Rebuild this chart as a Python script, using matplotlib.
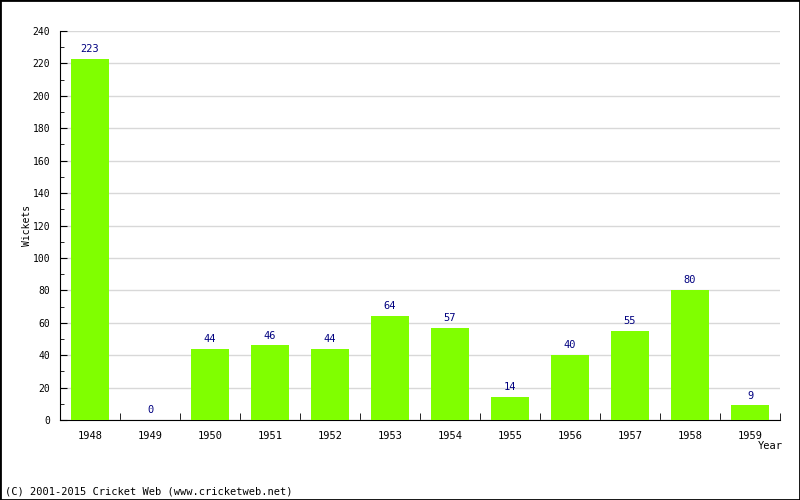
import matplotlib
matplotlib.use('Agg')
import matplotlib.pyplot as plt
import numpy as np
from matplotlib.ticker import MultipleLocator, FixedLocator

years = ['1948', '1949', '1950', '1951', '1952', '1953', '1954', '1955', '1956', '1957', '1958', '1959']
wickets = [223, 0, 44, 46, 44, 64, 57, 14, 40, 55, 80, 9]

plt.rcParams['font.family'] = 'DejaVu Sans Mono'
plt.rcParams['font.size'] = 7.5

fig = plt.figure(figsize=(8, 5), dpi=100)
ax = fig.add_axes([0.075, 0.16, 0.9, 0.778])

x = np.arange(len(years))
ax.bar(x, wickets, width=0.62, color='#80ff00', zorder=3)
for xi, v in zip(x, wickets):
    ax.text(xi, v + 3, str(v), ha='center', va='bottom', color='#000080', fontsize=7.5)

ax.set_xlim(-0.5, len(years) - 0.5)
ax.set_ylim(0, 240)
ax.yaxis.set_major_locator(MultipleLocator(20))
ax.yaxis.set_minor_locator(MultipleLocator(10))
ax.grid(axis='y', which='major', color='#d8d8d8', linewidth=1, zorder=0)

ax.set_xticks(x)
ax.set_xticklabels(years)
ax.tick_params(axis='x', which='major', length=0, pad=8)
ax.xaxis.set_minor_locator(FixedLocator(np.arange(-0.5, len(years), 1.0)))
ax.tick_params(axis='x', which='minor', length=5, direction='in', bottom=True)
ax.tick_params(axis='y', which='major', length=5, direction='in', pad=7, labelsize=7)
ax.tick_params(axis='y', which='minor', length=3, direction='in')

for s in ['top', 'right']:
    ax.spines[s].set_visible(False)

fig.text(27 / 800, 0.55, 'Wickets', rotation=90, ha='center', va='center', fontsize=7)
fig.text(0.978, 0.108, 'Year', ha='right', va='center')
fig.text(0.006, 0.016, '(C) 2001-2015 Cricket Web (www.cricketweb.net)', ha='left', va='center')

fig.patches.append(plt.Rectangle((0, 0), 1, 1, transform=fig.transFigure,
                                 fill=False, edgecolor='black', linewidth=2))

fig.savefig('out.png', dpi=100)
